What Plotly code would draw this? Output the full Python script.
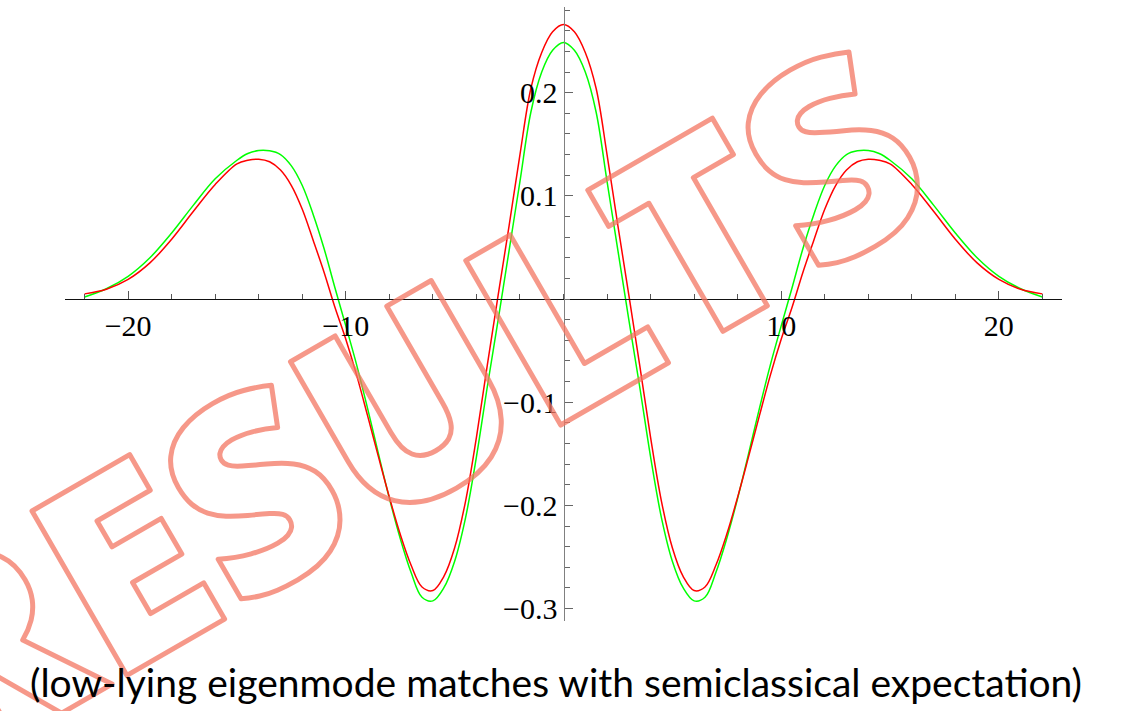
import plotly.graph_objects as go

# Sample positions along the x axis
x_vals = [-22, -21, -20, -19, -18, -17, -16, -15, -14.5, -14, -13.5, -13, -12.5, -12, -11.5, -11,
          -10.5, -10, -9.5, -9, -8.5, -8, -7.5, -7, -6.5, -6, -5.5, -5, -4.5, -4, -3.5, -3,
          -2.5, -2, -1.5, -1, -0.5, 0, 0.5, 1, 1.5, 2, 2.5, 3, 3.5, 4, 4.5, 5, 5.5, 6, 6.5,
          7, 7.5, 8, 8.5, 9, 9.5, 10, 10.5, 11, 11.5, 12, 12.5, 13, 13.5, 14, 14.5, 15, 16,
          17, 18, 19, 20, 21, 22]

# Semiclassical expectation (green)
semiclassical = [0.002, 0.010, 0.022, 0.040, 0.064, 0.091, 0.1165, 0.1345, 0.141, 0.1439, 0.1436,
                 0.140, 0.129, 0.110, 0.082, 0.049, 0.011, -0.026, -0.064, -0.106, -0.150, -0.193,
                 -0.232, -0.265, -0.289, -0.2925, -0.280, -0.254, -0.212, -0.153, -0.085, -0.020,
                 0.047, 0.114, 0.181, 0.220, 0.241, 0.2486, 0.241, 0.220, 0.181, 0.114, 0.047,
                 -0.020, -0.085, -0.153, -0.212, -0.254, -0.280, -0.2925, -0.289, -0.265, -0.232,
                 -0.193, -0.150, -0.106, -0.064, -0.026, 0.011, 0.049, 0.082, 0.110, 0.129, 0.140,
                 0.1436, 0.1439, 0.141, 0.1345, 0.1165, 0.091, 0.064, 0.040, 0.022, 0.010, 0.002]

# Low-lying eigenmode (red)
eigenmode = [0.005, 0.0095, 0.019, 0.035, 0.058, 0.085, 0.111, 0.131, 0.1345, 0.1355, 0.133,
             0.125, 0.110, 0.087, 0.057, 0.026, -0.008, -0.039, -0.074, -0.113, -0.153, -0.192,
             -0.228, -0.258, -0.279, -0.2825, -0.269, -0.241, -0.196, -0.134, -0.064, 0.004,
             0.071, 0.140, 0.204, 0.239, 0.259, 0.266, 0.259, 0.239, 0.204, 0.140, 0.071,
             0.004, -0.064, -0.134, -0.196, -0.241, -0.269, -0.2825, -0.279, -0.258, -0.228,
             -0.192, -0.153, -0.113, -0.074, -0.039, -0.008, 0.026, 0.057, 0.087, 0.110, 0.125,
             0.133, 0.1355, 0.1345, 0.131, 0.111, 0.085, 0.058, 0.035, 0.019, 0.0095, 0.005]

x_major = [-20, -10, 10, 20]
y_major = [-0.3, -0.2, -0.1, 0.1, 0.2]
y_labels = ["\u22120.3", "\u22120.2", "\u22120.1", "0.1", "0.2"]

x_range = [-22.9, 22.9]
y_range = [-0.312, 0.283]

caption = "(low-lying eigenmode matches with semiclassical expectation)"
stamp = "RESULTS"

fig = go.Figure()
fig.add_trace(go.Scatter(x=x_vals, y=semiclassical, mode="lines",
                         line=dict(color="#00ff00", width=1.5, shape="spline"),
                         hoverinfo="skip", showlegend=False))
fig.add_trace(go.Scatter(x=x_vals, y=eigenmode, mode="lines",
                         line=dict(color="#ff0000", width=1.5, shape="spline"),
                         hoverinfo="skip", showlegend=False))

tick_font = dict(family="Liberation Serif, Times New Roman, serif", size=30, color="black")

# Axes cross at the origin
x_cross = (0 - y_range[0]) / (y_range[1] - y_range[0])
y_cross = (0 - x_range[0]) / (x_range[1] - x_range[0])

fig.update_layout(
    width=1121, height=711,
    margin=dict(l=65, r=59, t=7, b=90),
    paper_bgcolor="white", plot_bgcolor="white",
    xaxis=dict(range=x_range, showgrid=False, zeroline=False,
               anchor="free", position=x_cross, side="bottom",
               showline=True, linecolor="#111111", linewidth=1.2,
               tickmode="array", tickvals=x_major,
               ticks="inside", ticklen=8, tickwidth=1, tickcolor="#555555",
               minor=dict(tickmode="linear", tick0=0, dtick=2, ticks="inside",
                          ticklen=5, tickwidth=1, tickcolor="#555555"),
               tickfont=tick_font),
    yaxis=dict(range=y_range, showgrid=False, zeroline=False,
               anchor="free", position=y_cross, side="left",
               showline=True, linecolor="#808080", linewidth=1.2,
               tickmode="array", tickvals=y_major, ticktext=y_labels,
               ticks="inside", ticklen=8, tickwidth=1, tickcolor="#666666",
               minor=dict(tickmode="linear", tick0=0, dtick=0.02, ticks="inside",
                          ticklen=5, tickwidth=1, tickcolor="#666666"),
               tickfont=tick_font),
)

# Outlined stamp across the plot
fig.add_annotation(
    xref="paper", yref="paper", x=0.334, y=0.36,
    xanchor="center", yanchor="middle", showarrow=False, textangle=-30,
    text=('<span style="fill:none;stroke:rgba(243,118,98,0.75);stroke-width:5px;'
          'stroke-linejoin:round">' + stamp + '</span>'),
    font=dict(family="Open Sans", size=266, weight=800, color="rgba(243,118,98,0.75)"),
)

# Caption below the plot
fig.add_annotation(
    xref="paper", yref="paper", x=0.4925, y=-0.0993,
    xanchor="center", yanchor="middle", showarrow=False,
    text=caption,
    font=dict(family="Lato", size=39, color="black"),
)

fig.write_html("out.html", config={"displayModeBar": False})
